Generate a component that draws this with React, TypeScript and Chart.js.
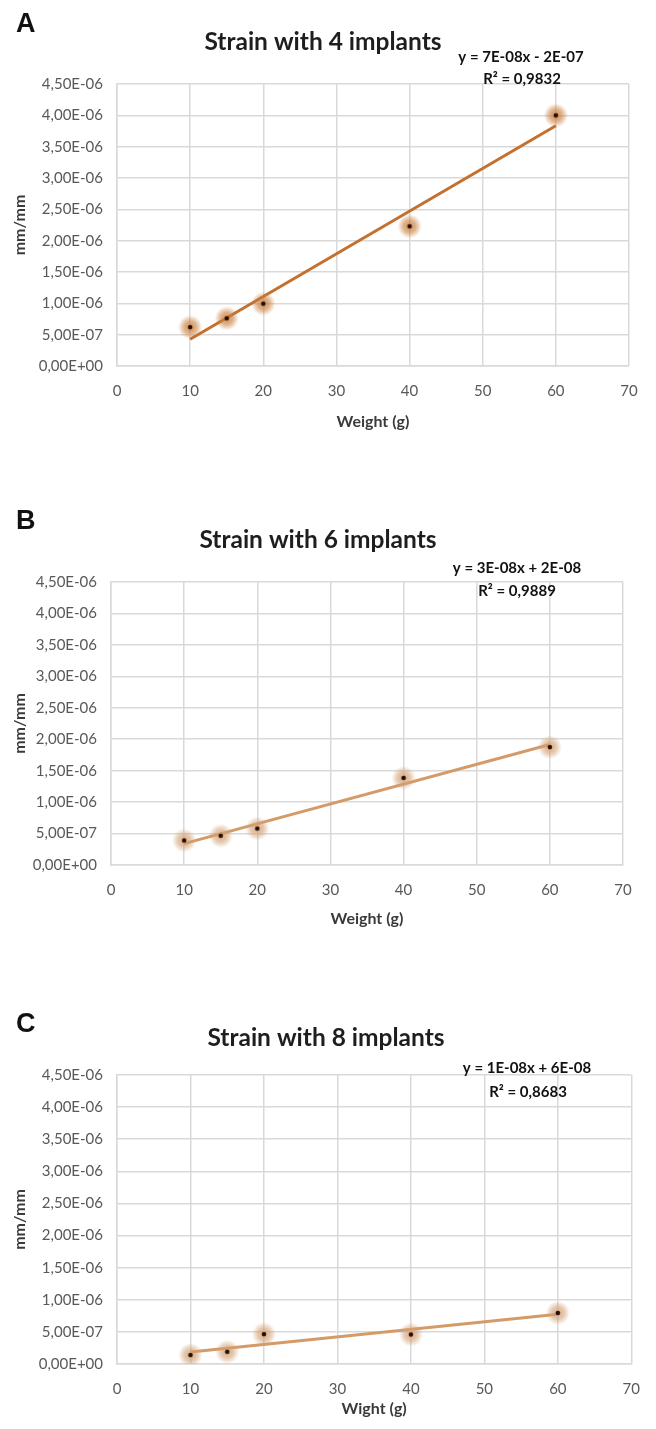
import React, { useEffect, useRef } from "react";
import { Chart, registerables } from "chart.js";

Chart.register(...registerables);

// ---- Data ----
const WEIGHTS = [10, 15, 20, 40, 60];
const STRAIN_4 = [6.2e-7, 7.6e-7, 9.95e-7, 2.23e-6, 4.0e-6];
const STRAIN_6 = [3.9e-7, 4.65e-7, 5.8e-7, 1.385e-6, 1.875e-6];
const STRAIN_8 = [1.4e-7, 1.9e-7, 4.65e-7, 4.6e-7, 7.95e-7];

const X_TICKS = [0, 10, 20, 30, 40, 50, 60, 70];
const Y_TICKS = [0, 5e-7, 1e-6, 1.5e-6, 2e-6, 2.5e-6, 3e-6, 3.5e-6, 4e-6, 4.5e-6];

const LETTERS = ["A", "B", "C"];
const TITLES = ["Strain with 4 implants", "Strain with 6 implants", "Strain with 8 implants"];
const EQUATIONS = ["y = 7E-08x - 2E-07", "y = 3E-08x + 2E-08", "y = 1E-08x + 6E-08"];
const R2_LABELS = ["R² = 0,9832", "R² = 0,9889", "R² = 0,8683"];
const X_TITLES = ["Weight (g)", "Weight (g)", "Wight (g)"];
const Y_TITLE = "mm/mm";
const SERIES = [STRAIN_4, STRAIN_6, STRAIN_8];

// ---- Layout / style (page coordinates) ----
const PANELS = [
  {
    top: 0, height: 435,
    plot: { l: 117, r: 629, t: 84, b: 366 },
    letter: { x: 16, y: 25 }, title: { x: 323, y: 42 },
    eq: { x: 521, y: 57 }, r2: { x: 522, y: 79 },
    line: "#c4702f", halo: "rgba(200,125,60,",
  },
  {
    top: 480, height: 452,
    plot: { l: 111, r: 623, t: 582, b: 865 },
    letter: { x: 16, y: 522 }, title: { x: 318, y: 540 },
    eq: { x: 517, y: 568 }, r2: { x: 517, y: 591 },
    line: "#d49b69", halo: "rgba(210,160,115,",
  },
  {
    top: 990, height: 432,
    plot: { l: 117, r: 635, t: 1075, b: 1364 },
    letter: { x: 16, y: 1025 }, title: { x: 326, y: 1038 },
    eq: { x: 527, y: 1068 }, r2: { x: 528, y: 1092 },
    line: "#d49b69", halo: "rgba(210,160,115,",
  },
];

const GRID = "#d9d9d9";
const TICK_COLOR = "#595959";
const FONT = "Lato, 'Open Sans', sans-serif";

function fmtSci(v: number): string {
  if (Math.abs(v) < 1e-15) return "0,00E+00";
  const s = v.toExponential(2);
  const [m, e] = s.split("e");
  const exp = parseInt(e, 10);
  const sign = exp < 0 ? "-" : "+";
  const ee = String(Math.abs(exp)).padStart(2, "0");
  return m.replace(".", ",") + "E" + sign + ee;
}

function regression(xs: number[], ys: number[]) {
  const n = xs.length;
  const mx = xs.reduce((a, b) => a + b, 0) / n;
  const my = ys.reduce((a, b) => a + b, 0) / n;
  let sxy = 0, sxx = 0;
  for (let i = 0; i < n; i++) {
    sxy += (xs[i] - mx) * (ys[i] - my);
    sxx += (xs[i] - mx) ** 2;
  }
  const slope = sxy / sxx;
  return { slope, intercept: my - slope * mx };
}

function makeMarker(halo: string): HTMLCanvasElement {
  const size = 24;
  const c = document.createElement("canvas");
  c.width = size;
  c.height = size;
  const g = c.getContext("2d")!;
  const grad = g.createRadialGradient(size / 2, size / 2, 0, size / 2, size / 2, size / 2);
  grad.addColorStop(0, halo + "0.85)");
  grad.addColorStop(0.5, halo + "0.6)");
  grad.addColorStop(0.8, halo + "0.25)");
  grad.addColorStop(1, halo + "0)");
  g.fillStyle = grad;
  g.beginPath();
  g.arc(size / 2, size / 2, size / 2, 0, Math.PI * 2);
  g.fill();
  g.fillStyle = "#2a0e00";
  g.beginPath();
  g.arc(size / 2, size / 2, 2.3, 0, Math.PI * 2);
  g.fill();
  return c;
}

const panelTextPlugin = {
  id: "panelText",
  afterDraw(chart: any, _args: any, opts: any) {
    const p = opts.panel;
    const i = opts.index;
    if (!p) return;
    const ctx = chart.ctx as CanvasRenderingContext2D;
    const off = p.top;
    ctx.save();
    ctx.textBaseline = "middle";
    ctx.fillStyle = "#111";
    ctx.textAlign = "left";
    ctx.font = "bold 27px 'Liberation Sans', Arial, sans-serif";
    ctx.fillText(LETTERS[i], p.letter.x, p.letter.y - off);
    ctx.textAlign = "center";
    ctx.fillStyle = "#1e1e1e";
    ctx.font = `bold 24.5px ${FONT}`;
    ctx.fillText(TITLES[i], p.title.x, p.title.y - off);
    ctx.font = `bold 15px ${FONT}`;
    ctx.fillStyle = "#111";
    ctx.fillText(EQUATIONS[i], p.eq.x, p.eq.y - off);
    ctx.fillText(R2_LABELS[i], p.r2.x, p.r2.y - off);
    ctx.restore();
  },
};

function Panel({ index }: { index: number }) {
  const ref = useRef<HTMLCanvasElement | null>(null);
  const p = PANELS[index];
  useEffect(() => {
    if (!ref.current) return;
    const ys = SERIES[index];
    const { slope, intercept } = regression(WEIGHTS, ys);
    const xMin = Math.min(...WEIGHTS);
    const xMax = Math.max(...WEIGHTS);
    const trend = [
      { x: xMin, y: slope * xMin + intercept },
      { x: xMax, y: slope * xMax + intercept },
    ];
    const points = WEIGHTS.map((x, k) => ({ x, y: ys[k] }));
    const marker = makeMarker(p.halo);
    const xAxisH = p.top + p.height - p.plot.b;
    const chart = new Chart(ref.current, {
      type: "scatter",
      data: {
        datasets: [
          {
            label: "trend",
            data: trend,
            showLine: true,
            borderColor: p.line,
            borderWidth: 3,
            pointRadius: 0,
            order: 2,
          } as any,
          {
            label: "strain",
            data: points,
            pointStyle: marker,
            pointRadius: 12,
            pointHoverRadius: 12,
            order: 1,
          } as any,
        ],
      },
      options: {
        animation: false,
        responsive: false,
        devicePixelRatio: 1,
        events: [],
        layout: {
          padding: { left: 0, top: p.plot.t - p.top, right: 656 - p.plot.r, bottom: 0 },
        },
        plugins: {
          legend: { display: false },
          tooltip: { enabled: false },
          title: { display: false },
          panelText: { panel: p, index },
        } as any,
        scales: {
          x: {
            type: "linear",
            min: 0,
            max: 70,
            afterBuildTicks: (s: any) => {
              s.ticks = X_TICKS.map((v) => ({ value: v }));
            },
            afterFit: (s: any) => {
              s.height = xAxisH;
            },
            grid: { color: GRID, lineWidth: 1.5, drawTicks: false },
            border: { display: true, color: GRID, width: 1.5 },
            ticks: {
              padding: 16,
              color: TICK_COLOR,
              font: { family: FONT, size: 15 },
              maxRotation: 0,
            },
            title: {
              display: true,
              text: X_TITLES[index],
              color: "#3a3a3a",
              font: { family: FONT, size: 16, weight: "bold" },
              padding: { top: 0, bottom: 4 },
            },
          },
          y: {
            type: "linear",
            min: 0,
            max: 4.5e-6,
            afterBuildTicks: (s: any) => {
              s.ticks = Y_TICKS.map((v) => ({ value: v }));
            },
            afterFit: (s: any) => {
              s.width = p.plot.l;
            },
            grid: { color: GRID, lineWidth: 1.5, drawTicks: false },
            border: { display: true, color: GRID, width: 1.5 },
            ticks: {
              padding: 14,
              color: TICK_COLOR,
              font: { family: FONT, size: 15 },
              callback: (v: any) => fmtSci(Number(v)),
            },
            title: {
              display: true,
              text: Y_TITLE,
              color: "#3a3a3a",
              font: { family: FONT, size: 16, weight: "bold" },
              padding: { top: 10, bottom: 0 },
            },
          },
        },
      } as any,
      plugins: [panelTextPlugin as any],
    });
    return () => chart.destroy();
  }, [index]);
  return (
    <canvas
      ref={ref}
      width={656}
      height={p.height}
      style={{ position: "absolute", left: 0, top: p.top, width: 656, height: p.height, display: "block" }}
    />
  );
}

export default function App() {
  return (
    <div style={{ position: "absolute", left: 0, top: 0, width: 656, height: 1429, background: "#fff" }}>
      {PANELS.map((_, i) => (
        <Panel key={i} index={i} />
      ))}
    </div>
  );
}
